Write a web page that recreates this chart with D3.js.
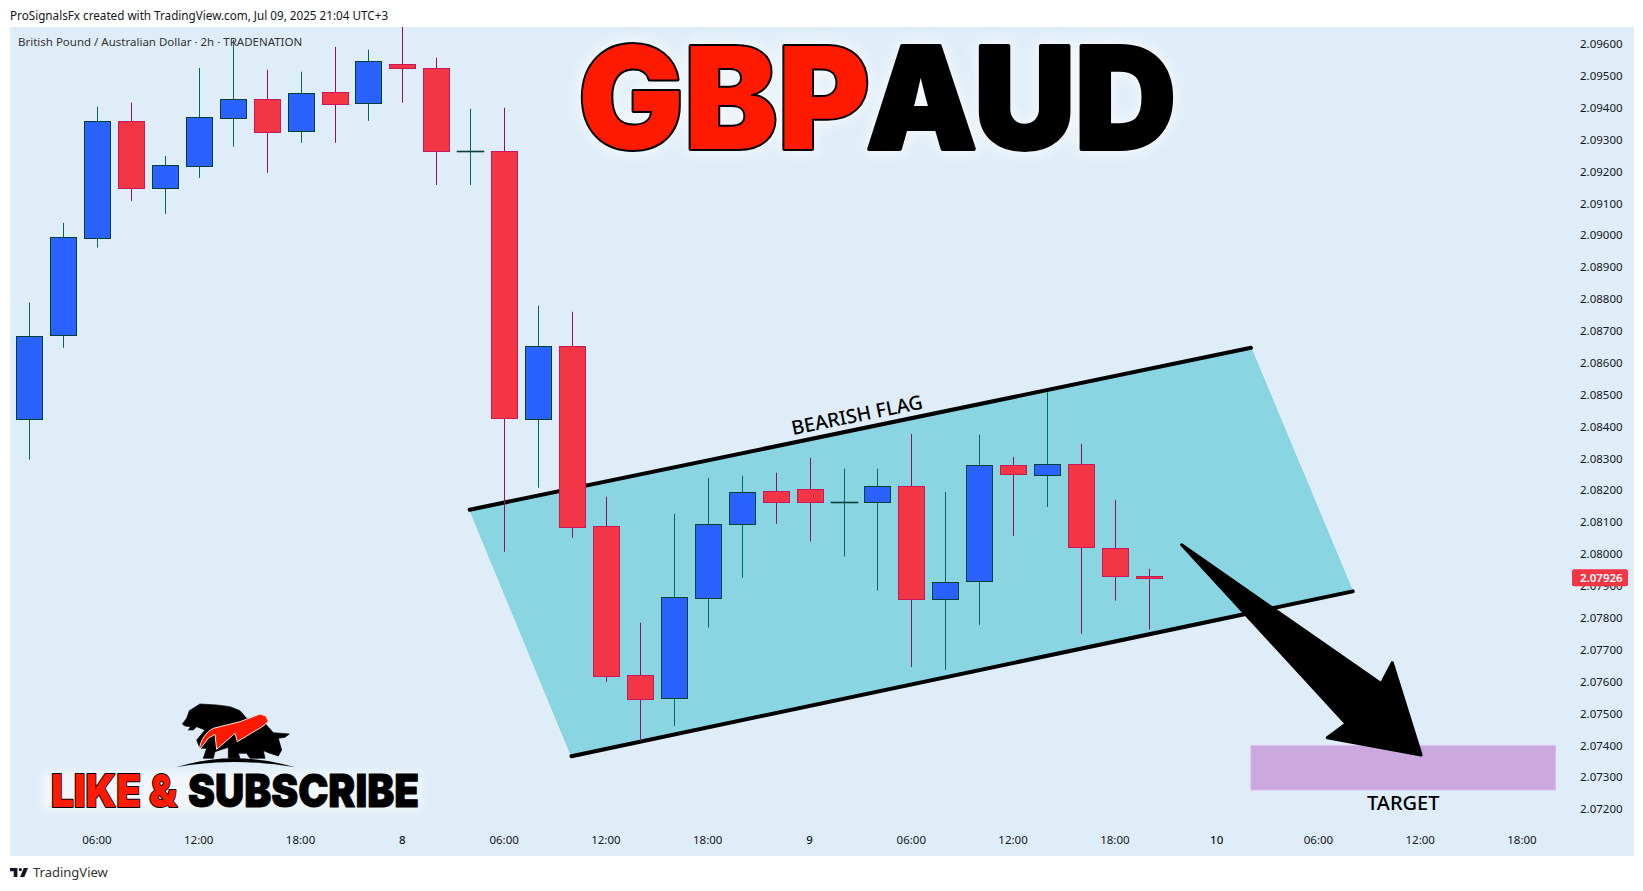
<!DOCTYPE html>
<html><head><meta charset="utf-8">
<script src="https://cdn.jsdelivr.net/npm/d3@7/dist/d3.min.js"></script>
<style>html,body{margin:0;padding:0;background:#fff;overflow:hidden}svg{display:block}</style>
</head><body><svg id="c" width="1643" height="891"></svg>
<script>
const opens  =[2.08424,2.08687,2.08990,2.09358,2.09147,2.09216,2.09366,2.09427,2.09326,2.09449,2.09413,2.09537,2.09524,2.09264,2.09264,2.08425,2.08654,2.08088,2.07620,2.07547,2.07861,2.08094,2.08198,2.08204,2.08162,2.08162,2.08213,2.07858,2.07915,2.08279,2.08247,2.08282,2.08019,2.07931];
const highs  =[2.08789,2.09039,2.09403,2.09416,2.09249,2.09525,2.09613,2.09519,2.09513,2.09591,2.09582,2.09676,2.09557,2.09397,2.09400,2.08779,2.08760,2.08180,2.07785,2.08126,2.08239,2.08246,2.08255,2.08302,2.08268,2.08268,2.08377,2.08195,2.08374,2.08305,2.08507,2.08346,2.08170,2.07954];
const lows   =[2.08296,2.08647,2.08961,2.09108,2.09067,2.09180,2.09278,2.09196,2.09290,2.09290,2.09359,2.09416,2.09158,2.09158,2.08007,2.08208,2.08051,2.07599,2.07414,2.07461,2.07769,2.07926,2.08095,2.08039,2.07992,2.07886,2.07646,2.07637,2.07778,2.08057,2.08148,2.07750,2.07854,2.07763];
const closes =[2.08684,2.08994,2.09358,2.09147,2.09220,2.09371,2.09427,2.09322,2.09446,2.09410,2.09546,2.09523,2.09263,2.09264,2.08425,2.08654,2.08087,2.07616,2.07544,2.07865,2.08094,2.08194,2.08162,2.08162,2.08162,2.08213,2.07858,2.07912,2.08279,2.08250,2.08282,2.08021,2.07930,2.07926];
const priceTicks=[2.096,2.095,2.094,2.093,2.092,2.091,2.090,2.089,2.088,2.087,2.086,2.085,2.084,2.083,2.082,2.081,2.080,2.079,2.078,2.077,2.076,2.075,2.074,2.073,2.072];
const timeTickDates=["2025-07-07T06:00Z","2025-07-07T12:00Z","2025-07-07T18:00Z","2025-07-08T00:00Z","2025-07-08T06:00Z","2025-07-08T12:00Z","2025-07-08T18:00Z","2025-07-09T00:00Z","2025-07-09T06:00Z","2025-07-09T12:00Z","2025-07-09T18:00Z","2025-07-10T00:00Z","2025-07-10T06:00Z","2025-07-10T12:00Z","2025-07-10T18:00Z"];
const timeTickLabels=["06:00","12:00","18:00","8","06:00","12:00","18:00","9","06:00","12:00","18:00","10","06:00","12:00","18:00"];
const firstBar="2025-07-07T02:00Z", lastPrice=2.07926;
const channelTop=[["2025-07-08T04:00Z",2.08139],["2025-07-10T02:03Z",2.08647]];
const channelBottom=[["2025-07-08T10:00Z",2.07366],["2025-07-10T08:03Z",2.07883]];
const targetZone={from:"2025-07-10T02:03Z",to:"2025-07-10T20:00Z",hi:2.07399,lo:2.07260};
const arrowPts=[["2025-07-09T21:58Z",2.08029],["2025-07-10T07:40Z",2.07468],["2025-07-10T06:33Z",2.07424],["2025-07-10T12:05Z",2.07370],["2025-07-10T10:23Z",2.07659],["2025-07-10T09:44Z",2.07593]];

const F='"Noto Sans",sans-serif';
const pane={x:10,y:27,w:1624,h:829};
const svg=d3.select("#c");
const X=d3.scaleUtc().domain([new Date(firstBar),new Date("2025-07-10T18:00Z")]).range([28.6,1521.5]);
const Y=d3.scaleLinear().domain([2.072,2.096]).range([809.1,44]);
const barT=i=>d3.utcHour.offset(new Date(firstBar),2*i);
const pt=d=>[X(new Date(d[0])),Y(d[1])];

const defs=svg.append("defs");
defs.append("clipPath").attr("id","pc").append("rect").attr("x",pane.x).attr("y",pane.y).attr("width",pane.w).attr("height",pane.h);
defs.append("filter").attr("id","glow").attr("x","-20%").attr("y","-40%").attr("width","140%").attr("height","180%")
  .append("feGaussianBlur").attr("stdDeviation",7);
defs.append("filter").attr("id","glow2").attr("x","-20%").attr("y","-40%").attr("width","140%").attr("height","180%")
  .append("feGaussianBlur").attr("stdDeviation",4);

svg.append("rect").attr("x",pane.x).attr("y",pane.y).attr("width",pane.w).attr("height",pane.h).attr("fill","#DFEDF8");
const g=svg.append("g").attr("clip-path","url(#pc)");

// channel
const cPts=[pt(channelTop[0]),pt(channelTop[1]),pt(channelBottom[1]),pt(channelBottom[0])];
g.append("polygon").attr("points",cPts.join(" ")).attr("fill","#8AD5E2").attr("stroke","#85D3E1").attr("stroke-width",1);
[channelTop,channelBottom].forEach(l=>g.append("path").attr("d",d3.line()(l.map(pt))).attr("stroke","#000").attr("stroke-width",4).attr("stroke-linecap","round").attr("fill","none"));

// target
g.append("rect").attr("x",X(new Date(targetZone.from))).attr("y",Y(targetZone.hi))
 .attr("width",X(new Date(targetZone.to))-X(new Date(targetZone.from))).attr("height",Y(targetZone.lo)-Y(targetZone.hi))
 .attr("fill","#CBA9DF").attr("stroke","#DDB9F0").attr("stroke-width",1);

// candles
const bars=closes.map((c,i)=>({t:barT(i),o:opens[i],h:highs[i],l:lows[i],c}));
const isUp=d=>d.c>=d.o;
const cx=d=>Math.round(X(d.t)+.6);
const cg=g.selectAll("g.b").data(bars).join("g").attr("class","b");
cg.append("line").attr("x1",d=>cx(d)+.5).attr("x2",d=>cx(d)+.5)
  .attr("y1",d=>Y(d.h)).attr("y2",d=>Y(d.l)).attr("stroke",d=>isUp(d)?"#00695C":"#970F55").attr("stroke-width",1);
cg.append("rect").attr("x",d=>cx(d)-12.5).attr("width",26)
  .attr("y",d=>Math.round(Y(Math.max(d.o,d.c)))+.5).attr("height",d=>Math.max(0.01,Math.round(Y(Math.min(d.o,d.c))-Y(Math.max(d.o,d.c)))))
  .attr("fill",d=>isUp(d)?"#2962FF":"#F23645").attr("stroke",d=>isUp(d)?"#00423A":"#C8185C").attr("stroke-width",d=>d.o===d.c?1.6:1);

// arrow
g.append("polygon").attr("points",arrowPts.map(pt).join(" ")).attr("fill","#000").attr("stroke","#000").attr("stroke-width",3).attr("stroke-linejoin","round");

// text annotations
g.append("text").attr("x",X(new Date("2025-07-10T12:00Z"))-16.5).attr("y",Y(2.0722)).attr("dy",".35em").attr("text-anchor","middle")
 .attr("font-family",F).attr("font-size",20).attr("font-weight",500).attr("fill","#000").text("TARGET");
g.append("text").attr("transform",`translate(857,415) rotate(-11.6)`).attr("dy",".35em").attr("text-anchor","middle")
 .attr("font-family",F).attr("font-size",19.5).attr("font-weight",500).attr("fill","#000").text("BEARISH FLAG");

// title
function word(s,x,w,base,size,fill,sw){
  return g.append("text").attr("x",x).attr("y",base).attr("font-family","Inter,sans-serif").attr("font-weight",900).attr("font-size",size)
   .attr("textLength",w).attr("lengthAdjust","spacingAndGlyphs").text(s)
   .attr("fill",fill).attr("stroke","#000").attr("stroke-width",sw).attr("stroke-linejoin","round").attr("paint-order","stroke");
}
function halo(s,x,w,base,size,f,sw,op){
  g.append("text").attr("x",x).attr("y",base).attr("font-family","Inter,sans-serif").attr("font-weight",900).attr("font-size",size)
   .attr("textLength",w).attr("lengthAdjust","spacingAndGlyphs").attr("fill","#fff").attr("stroke","#fff").attr("stroke-width",sw)
   .attr("opacity",op).attr("filter",`url(#${f})`).text(s);
}
halo("GBP",578,292,149,142,"glow",8,.75); halo("AUD",866,310,149,142,"glow",8,.75);
word("GBP",578,292,148.5,142,"#FF1A00",4);
word("AUD",866,310,148.5,142,"#000",4);

// logo
const logo=g.append("g").attr("transform","translate(150,690) scale(.3333)");
logo.append("path").attr("fill","#000").attr("stroke","#000").attr("stroke-width",2).attr("stroke-linejoin","round").attr("d","M97,102 L110,85 L118,62 L150,42 L200,45 L240,50 L270,62 L290,85 L345,100 L370,128 L418,132 L405,142 L385,145 L395,180 L385,198 L360,190 L340,182 L345,205 L300,205 L290,190 L265,190 L270,205 L235,205 L235,172 L195,185 L190,205 L160,205 L170,175 L150,175 L140,150 L165,120 L140,110 L130,120 L115,120 L122,110 L105,108 Z");
logo.append("path").attr("fill","#FF1A00").attr("stroke","#E8E8E8").attr("stroke-width",3).attr("stroke-linejoin","round").attr("d","M148,180 C150,150 170,125 190,115 L270,95 L330,72 L348,78 L355,94 L340,108 L262,155 L255,130 L200,178 L195,133 L175,145 Z");
logo.append("path").attr("fill","#000").attr("d","M78,232 Q250,178 436,232 Q250,200 78,232 Z");

// like & subscribe
g.append("rect").attr("x",42).attr("y",772).attr("width",380).attr("height",38).attr("fill","#fff").attr("opacity",.55).attr("filter","url(#glow2)");
word("LIKE &",51,126,807,45,"#FF1A00",2);
word("SUBSCRIBE",188,231,807,45,"#000",1);

// axes
const yAxis=d3.axisRight(Y).tickValues(priceTicks).tickFormat(d3.format(".5f")).tickSize(0);
const ya=svg.append("g").attr("transform","translate(1580,0)").call(yAxis);
ya.select(".domain").remove();
ya.selectAll("text").attr("x",0).attr("font-family",F).attr("font-size",11.5).attr("fill","#131722");
const xAxis=d3.axisBottom(X).tickValues(timeTickDates.map(d=>new Date(d))).tickFormat((d,i)=>timeTickLabels[i]).tickSize(0);
const xa=svg.append("g").attr("transform","translate(0,835.5)").call(xAxis);
xa.select(".domain").remove();
xa.selectAll("text").attr("y",0).attr("dy",".71em").attr("font-family",F).attr("font-size",11.5).attr("fill","#131722")
  .attr("font-weight",(d,i)=>timeTickLabels[i].length<3?500:400);

// price label
const ly=Y(lastPrice);
svg.append("rect").attr("x",1572).attr("y",ly-8.5).attr("width",56).attr("height",17).attr("rx",2).attr("fill","#F23645");
svg.append("text").attr("x",1580).attr("y",ly).attr("dy",".35em").attr("font-family",F).attr("font-size",11.5).attr("font-weight",600).attr("fill","#fff").text(d3.format(".5f")(lastPrice));

// header / legend / footer
svg.append("text").attr("x",10).attr("y",16).attr("dy",".35em").attr("font-family",F).attr("font-size",11.7).attr("fill","#131722").text("ProSignalsFx created with TradingView.com, Jul 09, 2025 21:04 UTC+3");
svg.append("text").attr("x",18).attr("y",42).attr("dy",".35em").attr("font-family",F).attr("font-size",11.5).attr("fill","#333").text("British Pound / Australian Dollar · 2h · TRADENATION");
const tv=svg.append("g").attr("transform","translate(10,868) scale(.53)").attr("fill","#131722");
tv.append("path").attr("d","M14 0H0v6h7v11h7V0Z");
tv.append("circle").attr("cx",19.5).attr("cy",3).attr("r",3);
tv.append("path").attr("d","M34 0l-7 17h-8l7-17h8Z");
svg.append("text").attr("x",33).attr("y",872.5).attr("dy",".35em").attr("font-family",F).attr("font-size",13).attr("fill","#333").text("TradingView");
</script></body></html>
